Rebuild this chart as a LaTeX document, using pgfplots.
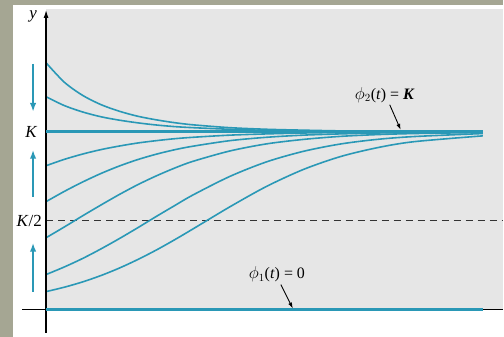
\documentclass[border=0pt]{standalone}
\usepackage{fontspec}
\setmainfont{Liberation Serif}
\usepackage{pgfplots}
\pgfplotsset{compat=1.18}
\usetikzlibrary{arrows.meta}
\definecolor{frame}{HTML}{A5A693}
\definecolor{panel}{HTML}{E6E6E6}
\definecolor{sol}{HTML}{2A98B6}
\definecolor{halfline}{HTML}{333333}

% logistic solutions y(t) for several starting values (y in units of K)
\pgfplotstableread{
t     a     b     c     d     e     f     g
0     1.388 1.197 0.809 0.607 0.404 0.197 0.101
0.25  1.278 1.147 0.845 0.665 0.465 0.240 0.126
0.5   1.204 1.111 0.875 0.718 0.528 0.288 0.156
0.75  1.152 1.084 0.900 0.766 0.589 0.342 0.192
1     1.115 1.065 0.920 0.808 0.648 0.400 0.234
1.25  1.087 1.050 0.937 0.844 0.703 0.461 0.282
1.5   1.067 1.038 0.950 0.874 0.752 0.524 0.335
1.75  1.051 1.029 0.961 0.899 0.796 0.585 0.393
2     1.039 1.023 0.969 0.919 0.834 0.645 0.454
2.5   1.023 1.014 0.981 0.950 0.892 0.749 0.578
3     1.014 1.008 0.988 0.969 0.932 0.831 0.693
3.5   1.009 1.005 0.993 0.981 0.957 0.890 0.788
4     1.005 1.003 0.996 0.988 0.974 0.931 0.860
4.5   1.003 1.002 0.997 0.993 0.984 0.957 0.910
5     1.002 1.001 0.998 0.996 0.990 0.973 0.944
5.94  1.001 1.000 0.999 0.998 0.996 0.990 0.977
}\sols

\begin{document}
\begin{tikzpicture}[x=1bp,y=1bp]
\fill[frame] (0,0) rectangle (504,337);
\fill[white] (13,0) rectangle (504,332);
\begin{axis}[
  at={(13bp,0bp)}, anchor=south west,
  width=491bp, height=332bp, scale only axis,
  axis lines=none,
  xmin=-0.45, xmax=6.22, ymin=-0.152, ymax=1.713,
  clip=false,
  solution/.style={sol, line width=1.6bp, smooth, no markers, solid},
]
% shaded region of the phase plane
\fill[panel] (axis cs:0,0) rectangle (axis cs:6.22,1.69);

% half-capacity level
\addplot[halfline, no markers, line width=0.9bp, dash pattern=on 7bp off 5bp, sharp plot] coordinates {(0,0.5) (6.22,0.5)};

\addplot[solution] table[x=t, y=a] {\sols};
\addplot[solution] table[x=t, y=b] {\sols};
\addplot[solution] table[x=t, y=c] {\sols};
\addplot[solution] table[x=t, y=d] {\sols};
\addplot[solution] table[x=t, y=e] {\sols};
\addplot[solution] table[x=t, y=f] {\sols};
\addplot[solution] table[x=t, y=g] {\sols};

% coordinate axes
\draw[black, line width=1.2bp] (axis cs:-0.326,0) -- (axis cs:6.22,0);
\draw[black, line width=1.2bp, -{Latex[length=8bp,width=5bp]}] (axis cs:0,-0.129) -- (axis cs:0,1.685);

% equilibrium solutions
\addplot[sol, no markers, solid, line width=3.2bp, sharp plot] coordinates {(0,1) (5.94,1)};
\addplot[sol, no markers, solid, line width=3.2bp, sharp plot] coordinates {(0,0) (5.94,0)};

% direction arrows
\draw[sol, line width=1.8bp, -{Latex[length=9bp,width=6.5bp]}] (axis cs:-0.177,1.382) -- (axis cs:-0.177,1.112);
\draw[sol, line width=1.8bp, -{Latex[length=9bp,width=6.5bp]}] (axis cs:-0.177,0.635) -- (axis cs:-0.177,0.899);
\draw[sol, line width=1.8bp, -{Latex[length=9bp,width=6.5bp]}] (axis cs:-0.177,0.101) -- (axis cs:-0.177,0.376);

% labels
\node[font=\fontsize{17}{20}\selectfont\itshape] at (axis cs:-0.177,1.646) {y};
\node[font=\fontsize{17}{20}\selectfont, anchor=east] at (axis cs:-0.07,1) {\textit{K}};
\node[font=\fontsize{17}{20}\selectfont, anchor=east] at (axis cs:-0.01,0.5) {\textit{K}/2};

\node[font=\fontsize{16}{19}\selectfont] at (axis cs:4.606,1.208) {$\phi_2$(\textit{t}) = \textbf{\textit{K}}};
\draw[black, line width=0.9bp, -{Latex[length=6bp,width=4bp]}] (axis cs:4.674,1.152) -- (axis cs:4.823,1.011);

\node[font=\fontsize{16}{19}\selectfont] at (axis cs:3.139,0.197) {$\phi_1$(\textit{t}) = 0};
\draw[black, line width=0.9bp, -{Latex[length=6bp,width=4bp]}] (axis cs:3.193,0.140) -- (axis cs:3.356,0.006);
\end{axis}
\end{tikzpicture}
\end{document}
